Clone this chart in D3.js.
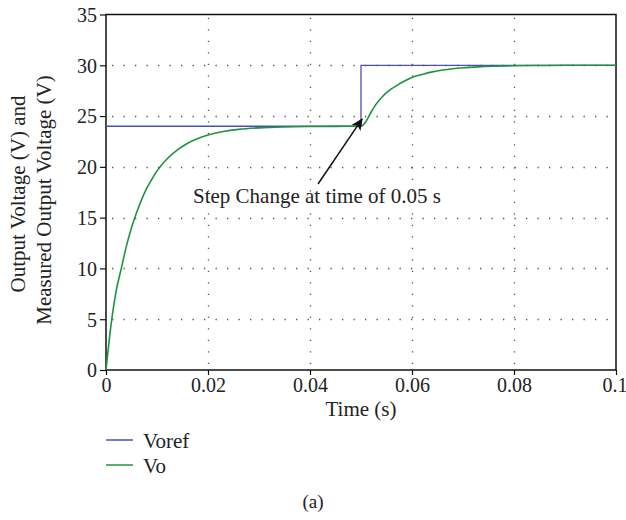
<!DOCTYPE html>
<html>
<head>
<meta charset="utf-8">
<script src="https://cdn.jsdelivr.net/npm/d3@7"></script>
<style>
  html, body { margin: 0; padding: 0; background: #fff; }
  svg text { font-family: "Liberation Serif", "DejaVu Serif", serif; fill: #222; }
</style>
</head>
<body>
<svg id="chart" width="626" height="520"></svg>
<script>
// Reference voltage (step from 24 V to 30 V at 0.05 s)
const vorefTime = [0, 0.05, 0.1];
const vorefVolts = [24, 30, 30];

// Measured output voltage
const voTime = [0, 0.001, 0.002, 0.003, 0.004, 0.005, 0.006, 0.007, 0.008, 0.009, 0.010,
  0.012, 0.014, 0.016, 0.018, 0.020, 0.023, 0.026, 0.030, 0.035, 0.040, 0.045, 0.050,
  0.051, 0.052, 0.053, 0.054, 0.055, 0.056, 0.057, 0.058, 0.060, 0.062, 0.064, 0.066,
  0.068, 0.070, 0.073, 0.076, 0.080, 0.085, 0.090, 0.100];
const voVolts = [0, 4.5, 7.8, 10.0, 12.2, 14.0, 15.5, 16.8, 17.9, 18.8, 19.6,
  20.8, 21.67, 22.33, 22.8, 23.14, 23.48, 23.69, 23.84, 23.93, 23.97, 23.99, 24.0,
  24.5, 25.4, 26.2, 26.8, 27.3, 27.7, 28.0, 28.3, 28.8, 29.1, 29.35, 29.53,
  29.66, 29.75, 29.84, 29.9, 29.95, 29.98, 30.0, 30.0];

const xTicks = [0, 0.02, 0.04, 0.06, 0.08, 0.1];
const xTickLabels = ["0", "0.02", "0.04", "0.06", "0.08", "0.1"];
const yTicks = [0, 5, 10, 15, 20, 25, 30, 35];

const seriesNames = ["Voref", "Vo"];
const seriesColors = ["#4b4fb5", "#1e9440"];

const svg = d3.select("#chart");
const m = { left: 106, right: 616, top: 14.5, bottom: 370 };

const x = d3.scaleLinear().domain([0, 0.1]).range([m.left, m.right]);
const y = d3.scaleLinear().domain([0, 35]).range([m.bottom, m.top]);

// dotted grid
const grid = svg.append("g").attr("stroke", "#555").attr("stroke-width", 1.3)
  .attr("stroke-dasharray", "1.3,10.2");
grid.selectAll("line.gx").data(xTicks.slice(1, -1)).join("line")
  .attr("x1", d => Math.round(x(d)) + 0.5).attr("x2", d => Math.round(x(d)) + 0.5)
  .attr("y1", m.bottom - 6).attr("y2", m.top);
grid.selectAll("line.gy").data(yTicks.slice(1, -1)).join("line")
  .attr("y1", d => Math.round(y(d)) + 0.5).attr("y2", d => Math.round(y(d)) + 0.5)
  .attr("x1", m.left + 6).attr("x2", m.right);

// axes
const xAxis = d3.axisBottom(x).tickValues(xTicks)
  .tickFormat((d, i) => xTickLabels[i]).tickSize(5).tickPadding(3);
const yAxis = d3.axisLeft(y).tickValues(yTicks).tickSize(6).tickPadding(3);

const gx = svg.append("g").attr("transform", `translate(0,${m.bottom})`).call(xAxis);
const gy = svg.append("g").attr("transform", `translate(${m.left},0)`).call(yAxis);
[gx, gy].forEach(g => {
  g.select(".domain").remove();
  g.selectAll(".tick line").attr("stroke", "#111").attr("stroke-width", 1.2);
  g.selectAll(".tick text").attr("font-size", 20).attr("fill", "#222")
    .attr("font-family", "Liberation Serif, DejaVu Serif, serif");
});
gy.selectAll(".tick text").attr("dy", "0.34em");
// keep the last x label inside the canvas
gx.selectAll(".tick text").filter(d => d === 0.1).attr("text-anchor", "end").attr("dx", 11);

// frame
svg.append("rect")
  .attr("x", m.left).attr("y", m.top)
  .attr("width", m.right - m.left).attr("height", m.bottom - m.top)
  .attr("fill", "none").attr("stroke", "#111").attr("stroke-width", 1.5);

// series
const vorefData = vorefTime.map((t, i) => [t, vorefVolts[i]]);
const voData = voTime.map((t, i) => [t, voVolts[i]]);

svg.append("path").datum(vorefData)
  .attr("fill", "none").attr("stroke", seriesColors[0]).attr("stroke-width", 1.3)
  .attr("d", d3.line().x(d => x(d[0])).y(d => y(d[1])).curve(d3.curveStepAfter));

svg.append("path").datum(voData)
  .attr("fill", "none").attr("stroke", seriesColors[1]).attr("stroke-width", 1.6)
  .attr("d", d3.line().x(d => x(d[0])).y(d => y(d[1])).curve(d3.curveMonotoneX));

// annotation
const defs = svg.append("defs");
defs.append("marker").attr("id", "arrowhead")
  .attr("viewBox", "0 0 10 10").attr("refX", 9).attr("refY", 5)
  .attr("markerWidth", 8).attr("markerHeight", 8).attr("markerUnits", "strokeWidth")
  .attr("orient", "auto")
  .append("path").attr("d", "M0,0.5 L10,5 L0,9.5 L2.5,5 Z").attr("fill", "#111");

svg.append("line")
  .attr("x1", 318).attr("y1", 184)
  .attr("x2", x(0.05) + 1).attr("y2", y(24.7))
  .attr("stroke", "#111").attr("stroke-width", 1.5)
  .attr("marker-end", "url(#arrowhead)");

svg.append("text").attr("x", 193).attr("y", 203)
  .attr("font-size", 21).text("Step Change at time of 0.05 s");

// axis titles
svg.append("text").attr("x", x(0.05)).attr("y", 416)
  .attr("text-anchor", "middle").attr("font-size", 21).text("Time (s)");
svg.append("text").attr("transform", "translate(25,194) rotate(-90)")
  .attr("text-anchor", "middle").attr("font-size", 21).text("Output Voltage (V) and");
svg.append("text").attr("transform", "translate(51,200) rotate(-90)")
  .attr("text-anchor", "middle").attr("font-size", 21).text("Measured Output Voltage (V)");

// legend
const legend = svg.append("g");
seriesNames.forEach((name, i) => {
  const ly = 440 + i * 25;
  legend.append("line").attr("x1", 106).attr("x2", 133).attr("y1", ly).attr("y2", ly)
    .attr("stroke", seriesColors[i]).attr("stroke-width", 1.5);
  legend.append("text").attr("x", 143).attr("y", ly + 8)
    .attr("font-size", 21).text(name);
});

svg.append("text").attr("x", 313).attr("y", 508)
  .attr("text-anchor", "middle").attr("font-size", 19).text("(a)");
</script>
</body>
</html>
